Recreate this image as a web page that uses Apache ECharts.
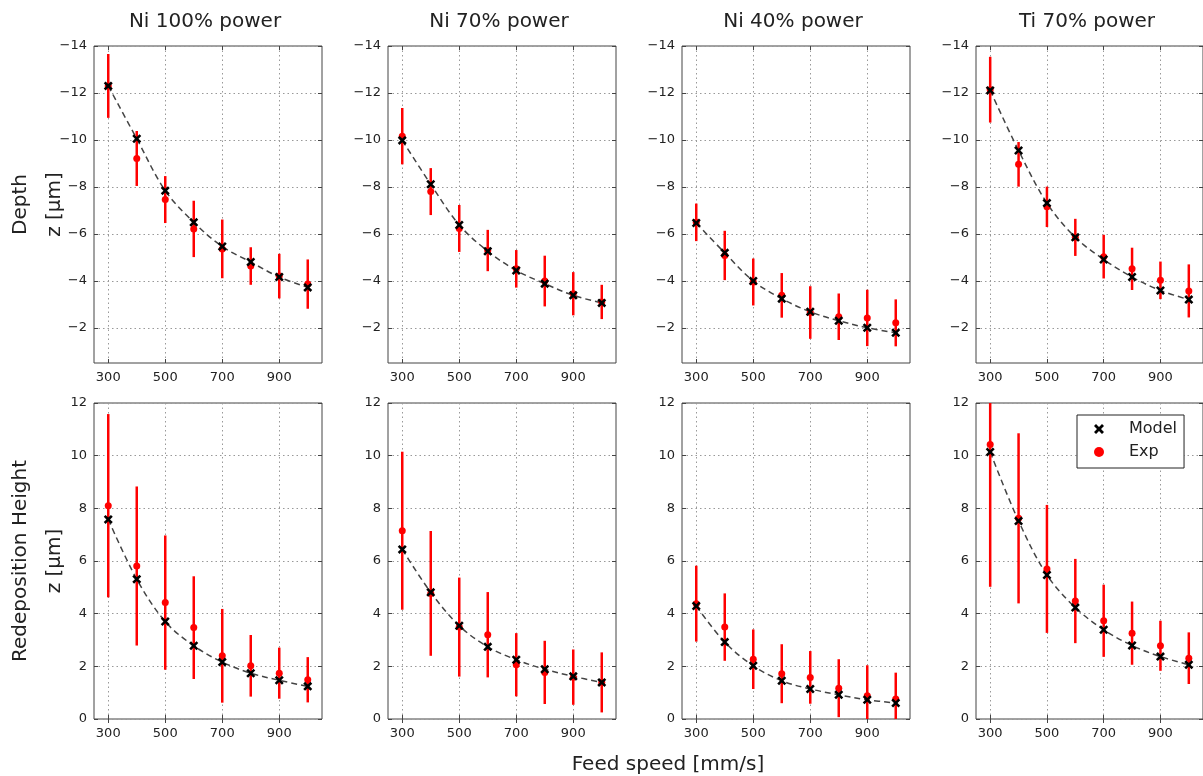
<!DOCTYPE html>
<html><head><meta charset="utf-8">
<script src="https://cdn.jsdelivr.net/npm/echarts@6/dist/echarts.min.js"></script>
<style>html,body{margin:0;padding:0;background:#fff}#c{width:1203px;height:776px}</style>
</head><body><div id="c"></div>
<script>
// ---------- data ----------
const feedSpeeds = [300, 400, 500, 600, 700, 800, 900, 1000];
const xTicks = [300, 500, 700, 900];
const depthTicks = [-14, -12, -10, -8, -6, -4, -2];
const heightTicks = [0, 2, 4, 6, 8, 10, 12];
const panelTitles = ['Ni 100% power', 'Ni 70% power', 'Ni 40% power', 'Ti 70% power'];
const rowNames = ['Depth', 'Redeposition Height'];
const yUnitLabel = 'z [µm]';
const xAxisTitle = 'Feed speed [mm/s]';

// Depth (top row)
const depthModelNi100 = [-12.3, -10.05, -7.84, -6.49, -5.46, -4.8, -4.16, -3.72];
const depthExpNi100   = [-12.3, -9.21, -7.46, -6.21, -5.36, -4.63, -4.2, -3.86];
const depthErrNi100   = [1.36, 1.17, 1.0, 1.2, 1.25, 0.8, 0.95, 1.05];

const depthModelNi70 = [-9.98, -8.11, -6.38, -5.26, -4.44, -3.88, -3.38, -3.06];
const depthExpNi70   = [-10.16, -7.8, -6.23, -5.29, -4.51, -3.99, -3.45, -3.1];
const depthErrNi70   = [1.2, 1.0, 1.0, 0.88, 0.8, 1.08, 0.92, 0.73];

const depthModelNi40 = [-6.46, -5.19, -3.99, -3.24, -2.68, -2.3, -2.0, -1.79];
const depthExpNi40   = [-6.49, -5.08, -3.95, -3.38, -2.65, -2.47, -2.42, -2.21];
const depthErrNi40   = [0.8, 1.05, 1.0, 0.95, 1.12, 0.99, 1.2, 1.0];

const depthModelTi70 = [-12.11, -9.55, -7.31, -5.85, -4.91, -4.16, -3.59, -3.2];
const depthExpTi70   = [-12.14, -8.96, -7.15, -5.85, -5.03, -4.51, -4.02, -3.57];
const depthErrTi70   = [1.4, 0.95, 0.86, 0.79, 0.93, 0.9, 0.8, 1.13];

// Redeposition height (bottom row)
const heightModelNi100 = [7.58, 5.31, 3.7, 2.78, 2.16, 1.74, 1.47, 1.24];
const heightExpNi100   = [8.1, 5.81, 4.42, 3.47, 2.4, 2.02, 1.74, 1.49];
const heightErrNi100   = [3.48, 3.02, 2.55, 1.95, 1.78, 1.17, 0.97, 0.86];

const heightModelNi70 = [6.44, 4.81, 3.54, 2.74, 2.25, 1.89, 1.62, 1.39];
const heightExpNi70   = [7.15, 4.77, 3.49, 3.2, 2.06, 1.77, 1.59, 1.39];
const heightErrNi70   = [3.0, 2.37, 1.88, 1.62, 1.2, 1.2, 1.05, 1.14];

const heightModelNi40 = [4.29, 2.92, 2.02, 1.45, 1.14, 0.92, 0.73, 0.61];
const heightExpNi40   = [4.38, 3.49, 2.27, 1.72, 1.58, 1.17, 0.88, 0.76];
const heightErrNi40   = [1.44, 1.28, 1.13, 1.12, 1.0, 1.1, 1.16, 1.0];

const heightModelTi70 = [10.14, 7.52, 5.47, 4.23, 3.39, 2.79, 2.37, 2.06];
const heightExpTi70   = [10.42, 7.62, 5.7, 4.48, 3.73, 3.26, 2.78, 2.31];
const heightErrTi70   = [5.4, 3.23, 2.43, 1.6, 1.37, 1.2, 0.95, 0.98];

const panels = [
  { row: 0, model: depthModelNi100, exp: depthExpNi100, err: depthErrNi100 },
  { row: 0, model: depthModelNi70,  exp: depthExpNi70,  err: depthErrNi70 },
  { row: 0, model: depthModelNi40,  exp: depthExpNi40,  err: depthErrNi40 },
  { row: 0, model: depthModelTi70,  exp: depthExpTi70,  err: depthErrTi70 },
  { row: 1, model: heightModelNi100, exp: heightExpNi100, err: heightErrNi100 },
  { row: 1, model: heightModelNi70,  exp: heightExpNi70,  err: heightErrNi70 },
  { row: 1, model: heightModelNi40,  exp: heightExpNi40,  err: heightErrNi40 },
  { row: 1, model: heightModelTi70,  exp: heightExpTi70,  err: heightErrTi70 }
];

// ---------- layout ----------
const colLefts = [94, 388, 682, 976];
const rowTops = [46, 403];
const gridW = 228;
const gridHs = [317, 316];
const FONT = "'DejaVu Sans', 'Liberation Sans', sans-serif";
const TXT = '#222';
const FRAME = '#444';
const RED = '#ff0000';
const xPath = 'path://M2,0 L5,3 L8,0 L10,2 L7,5 L10,8 L8,10 L5,7 L2,10 L0,8 L3,5 L0,2 Z';

const fmtNum = v => String(v).replace('-', '\u2212');

const grid = [], xAxis = [], yAxis = [], series = [];
const mirrorX = [], mirrorY = [];

panels.forEach((p, i) => {
  const col = i % 4;
  grid.push({
    left: colLefts[col], top: rowTops[p.row], width: gridW, height: gridHs[p.row],
    show: true, borderColor: FRAME, borderWidth: 1, backgroundColor: 'transparent',
    containLabel: false
  });
  const yCfg = p.row === 0
    ? { min: -14, max: -0.5, inverse: true, ticks: depthTicks }
    : { min: 0, max: 12, inverse: false, ticks: heightTicks };

  xAxis.push({
    type: 'value', gridIndex: i, min: 250, max: 1050, position: 'bottom',
    axisLine: { show: false },
    axisTick: { show: true, inside: true, length: 4, customValues: xTicks, lineStyle: { color: FRAME } },
    axisLabel: { show: true, customValues: xTicks, margin: 8, color: TXT, fontSize: 13, fontFamily: FONT },
    splitLine: { show: true, lineStyle: { type: [1.5, 3], color: '#999', width: 1 } }
  });
  yAxis.push({
    type: 'value', gridIndex: i, min: yCfg.min, max: yCfg.max, inverse: yCfg.inverse, position: 'left',
    axisLine: { show: false },
    axisTick: { show: true, inside: true, length: 4, customValues: yCfg.ticks, lineStyle: { color: FRAME } },
    axisLabel: { show: true, customValues: yCfg.ticks, margin: 7, color: TXT, fontSize: 13, fontFamily: FONT, formatter: fmtNum },
    splitLine: { show: true, lineStyle: { type: [1.5, 3], color: '#999', width: 1 } }
  });
  mirrorX.push({
    type: 'value', gridIndex: i, min: 250, max: 1050, position: 'top',
    axisLine: { show: false },
    axisTick: { show: true, inside: true, length: 4, customValues: xTicks, lineStyle: { color: FRAME } },
    axisLabel: { show: false }, splitLine: { show: false }
  });
  mirrorY.push({
    type: 'value', gridIndex: i, min: yCfg.min, max: yCfg.max, inverse: yCfg.inverse, position: 'right',
    axisLine: { show: false },
    axisTick: { show: true, inside: true, length: 4, customValues: yCfg.ticks, lineStyle: { color: FRAME } },
    axisLabel: { show: false }, splitLine: { show: false }
  });

  const modelData = feedSpeeds.map((x, k) => [x, p.model[k]]);
  const expData = feedSpeeds.map((x, k) => [x, p.exp[k]]);
  const errData = feedSpeeds.map((x, k) => [x, p.exp[k] - p.err[k], p.exp[k] + p.err[k]]);

  series.push({
    type: 'line', name: 'curve' + i, xAxisIndex: i, yAxisIndex: i, data: modelData,
    smooth: 0.35, showSymbol: false, symbol: 'none', z: 2, silent: true,
    lineStyle: { color: '#444', width: 1.5, type: [6, 4] }
  });
  series.push({
    type: 'custom', name: 'Exp', xAxisIndex: i, yAxisIndex: i, data: errData, z: 3, silent: true,
    itemStyle: { color: RED },
    encode: { x: 0, y: [1, 2] },
    renderItem: (params, api) => {
      const x = api.value(0), lo = api.value(1), hi = api.value(2);
      const a = api.coord([x, lo]), b = api.coord([x, hi]);
      const cs = params.coordSys;
      const clamp = v => Math.max(cs.y, Math.min(cs.y + cs.height, v));
      return {
        type: 'line',
        shape: { x1: a[0], y1: clamp(a[1]), x2: b[0], y2: clamp(b[1]) },
        style: { stroke: RED, lineWidth: 2.5 }
      };
    }
  });
  series.push({
    type: 'scatter', name: 'Exp', xAxisIndex: i, yAxisIndex: i, data: expData, z: 4,
    symbol: 'circle', symbolSize: 7, itemStyle: { color: RED, opacity: 1 }
  });
  series.push({
    type: 'scatter', name: 'Model', xAxisIndex: i, yAxisIndex: i, data: modelData, z: 5,
    symbol: xPath, symbolSize: 9, itemStyle: { color: '#000', opacity: 1 }
  });
});

const allX = xAxis.concat(mirrorX);
const allY = yAxis.concat(mirrorY);

const graphics = [];
panelTitles.forEach((t, c) => {
  graphics.push({
    type: 'text', x: colLefts[c] + gridW / 2 - 3, y: 22,
    style: { text: t, font: "20px " + FONT, fill: TXT, textAlign: 'center', textVerticalAlign: 'middle' }
  });
});
rowNames.forEach((n, r) => {
  const cy = rowTops[r] + gridHs[r] / 2;
  graphics.push({
    type: 'text', x: 21, y: cy, rotation: Math.PI / 2,
    style: { text: n, font: "20px " + FONT, fill: TXT, textAlign: 'center', textVerticalAlign: 'middle' }
  });
  graphics.push({
    type: 'text', x: 55, y: cy, rotation: Math.PI / 2,
    style: { text: yUnitLabel, font: "20px " + FONT, fill: TXT, textAlign: 'center', textVerticalAlign: 'middle' }
  });
});
graphics.push({
  type: 'text', x: 668, y: 765,
  style: { text: xAxisTitle, font: "20px " + FONT, fill: TXT, textAlign: 'center', textVerticalAlign: 'middle' }
});

const chart = echarts.init(document.getElementById('c'), null, { renderer: 'canvas' });
chart.setOption({
  backgroundColor: '#fff',
  animation: false,
  grid: grid,
  xAxis: allX,
  yAxis: allY,
  series: series,
  graphic: graphics,
  legend: {
    data: [
      { name: 'Model', icon: xPath, itemStyle: { color: '#000' } },
      { name: 'Exp', icon: 'circle', itemStyle: { color: RED } }
    ],
    orient: 'vertical', left: 1077, top: 415,
    itemWidth: 10, itemHeight: 10, itemGap: 5,
    padding: [5, 7, 7, 17],
    backgroundColor: '#fff', borderColor: '#222', borderWidth: 1, borderRadius: 0,
    selectedMode: false,
    textStyle: { fontSize: 16, fontFamily: FONT, color: TXT, lineHeight: 18, padding: [0, 0, 0, 20] }
  }
});
</script></body></html>
